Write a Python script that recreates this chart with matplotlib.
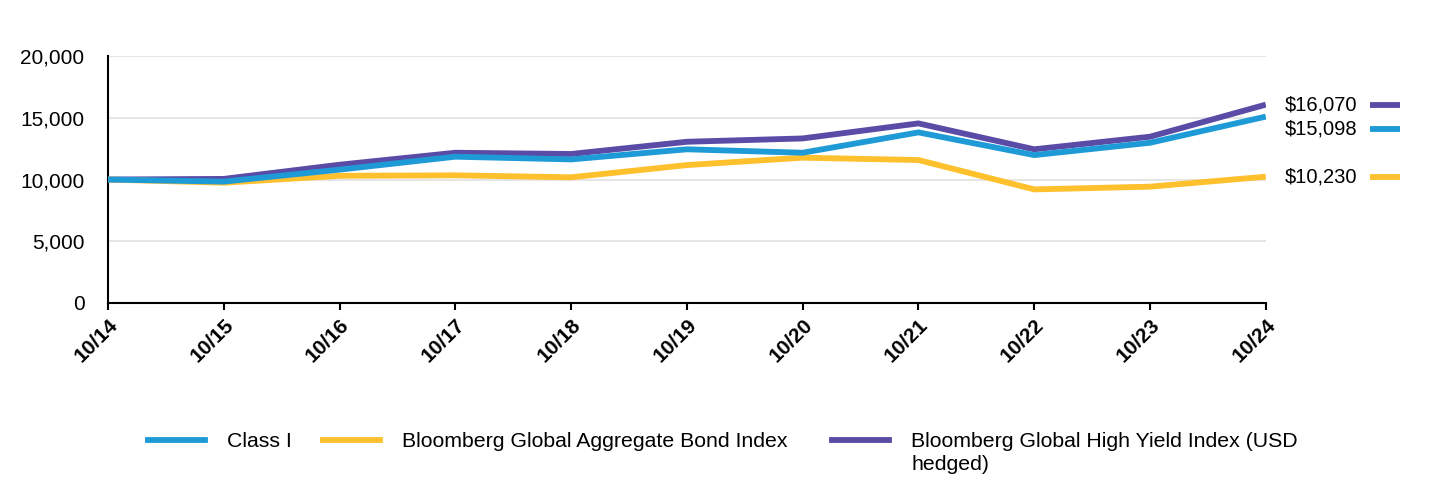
import matplotlib
matplotlib.use("Agg")
import matplotlib.pyplot as plt
from matplotlib.lines import Line2D
from matplotlib.ticker import FuncFormatter

plt.rcParams['font.family'] = ['Liberation Sans', 'DejaVu Sans']

years = ["10/14", "10/15", "10/16", "10/17", "10/18", "10/19",
         "10/20", "10/21", "10/22", "10/23", "10/24"]
class_i = [10000, 9830, 10800, 11850, 11630, 12450, 12170, 13820, 11980, 12980, 15098]
agg_bond = [10000, 9740, 10300, 10340, 10180, 11170, 11770, 11580, 9200, 9420, 10230]
high_yield = [10000, 10050, 11200, 12170, 12070, 13060, 13330, 14550, 12450, 13470, 16070]

names = ["Class I", "Bloomberg Global Aggregate Bond Index",
         "Bloomberg Global High Yield Index (USD\nhedged)"]
end_labels = ["$15,098", "$10,230", "$16,070"]
label_y = [14100, 10230, 16070]

blue = "#1e9ad6"
yellow = "#fec02c"
purple = "#594ba6"
colors = [blue, yellow, purple]

fig = plt.figure(figsize=(14.4, 4.8), dpi=100)
ax = fig.add_axes([0.075, 0.369, 0.804, 0.514])

x = list(range(len(years)))
for vals, col, z in [(high_yield, purple, 3), (agg_bond, yellow, 3), (class_i, blue, 4)]:
    ax.plot(x, vals, color=col, lw=4.2, solid_capstyle="butt",
            solid_joinstyle="miter", zorder=z)

ax.set_xlim(0, len(years) - 1)
ax.set_ylim(0, 20000)
ax.set_yticks([0, 5000, 10000, 15000, 20000])
ax.yaxis.set_major_formatter(FuncFormatter(lambda v, p: f"{int(v):,}"))
ax.set_xticks(x)
ax.set_xticklabels(years, rotation=45, ha="right", va="top",
                   rotation_mode="anchor", fontweight="bold", fontsize=15)
ax.tick_params(axis="y", length=0, labelsize=15, pad=17)
ax.tick_params(axis="x", length=5, width=1.5, color="black", pad=4)
ax.grid(axis="y", color="#e0e0e0", lw=1.2)
ax.set_axisbelow(True)
for s in ["top", "right"]:
    ax.spines[s].set_visible(False)
for s in ["left", "bottom"]:
    ax.spines[s].set_linewidth(1.5)

# end-of-line value labels
for ly, lab, col in zip(label_y, end_labels, colors):
    ax.annotate(lab, xy=(len(years) - 1, ly), xytext=(14, 0),
                textcoords="offset points", va="center", ha="left",
                fontsize=14.5, annotation_clip=False)
    ax.plot([1.0898, 1.1157], [ly, ly], transform=ax.get_yaxis_transform(),
            color=col, lw=4.2, solid_capstyle="butt", clip_on=False)

# legend, top aligned like the original
leg_x = [0.103, 0.224, 0.578]
leg_y = 1 - 440 / 480
for lx, nm, col in zip(leg_x, names, colors):
    fig.add_artist(Line2D([lx, lx + 0.0396], [leg_y, leg_y], color=col, lw=4.2,
                          transform=fig.transFigure))
    fig.text(lx + 0.0396 + 0.0153, leg_y + 0.016, nm, fontsize=15.3,
             ha="left", va="top", linespacing=1.25)

fig.savefig("out.png", dpi=100)
